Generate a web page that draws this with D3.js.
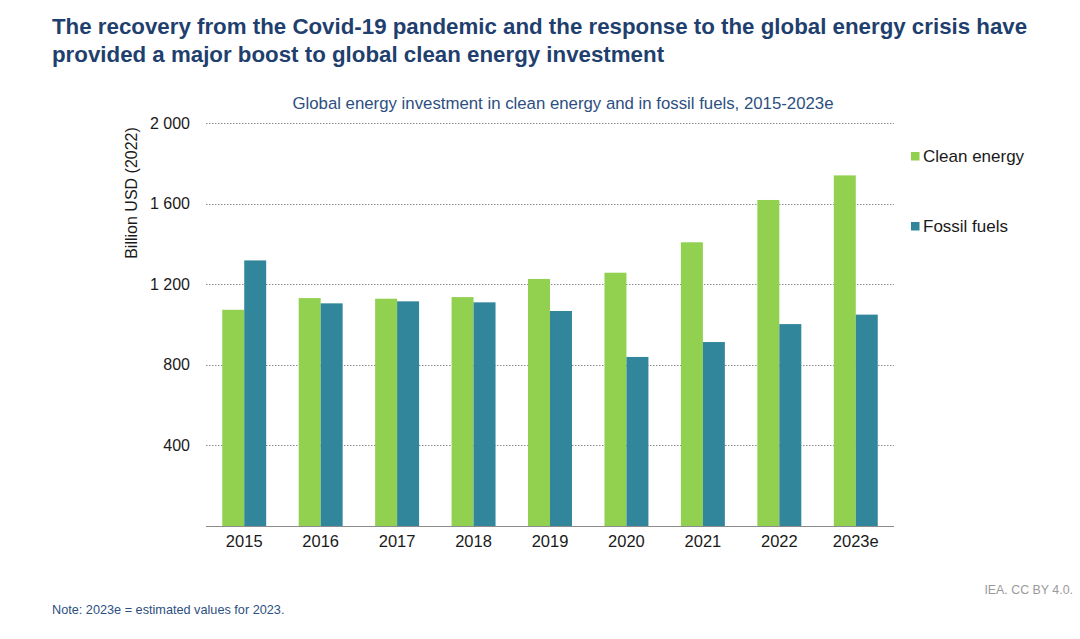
<!DOCTYPE html>
<html>
<head>
<meta charset="utf-8">
<script src="https://cdn.jsdelivr.net/npm/d3@7"></script>
<style>
  body { margin: 0; background: #fff; }
  svg { font-family: "Liberation Sans", Arial, sans-serif; }
</style>
</head>
<body>
<div id="graph"></div>
<script>
// data (billion USD 2022)
const years = ['2015', '2016', '2017', '2018', '2019', '2020', '2021', '2022', '2023e']
const cleanEnergy = [1073, 1131, 1128, 1136, 1226, 1257, 1408, 1618, 1740]
const fossilFuels = [1318, 1105, 1115, 1110, 1067, 839, 913, 1002, 1049]
const seriesNames = ['Clean energy', 'Fossil fuels']
const seriesColors = ['#92d050', '#32869c']
const yTicks = [400, 800, 1200, 1600, 2000]

const width = 1080
const height = 639

const svg = d3.select('#graph')
  .append('svg')
  .attr('width', width)
  .attr('height', height)

// titles
const title = svg.append('text')
  .attr('x', 52)
  .attr('y', 34)
  .attr('fill', '#1f3f6e')
  .attr('font-size', 22.3)
  .attr('font-weight', 'bold')
title.append('tspan').attr('x', 52).attr('dy', 0)
  .text('The recovery from the Covid-19 pandemic and the response to the global energy crisis have')
title.append('tspan').attr('x', 52).attr('dy', 28)
  .text('provided a major boost to global clean energy investment')

svg.append('text')
  .attr('x', 563)
  .attr('y', 109)
  .attr('text-anchor', 'middle')
  .attr('fill', '#2d4f7f')
  .attr('font-size', 16.8)
  .text('Global energy investment in clean energy and in fossil fuels, 2015-2023e')

// scales
const x = d3.scaleBand().domain(years).range([206, 894]).paddingInner(0.425).paddingOuter(0.2125)
const xSub = d3.scaleBand().domain(seriesNames).range([0, x.bandwidth()])
const y = d3.scaleLinear().domain([0, 2000]).range([526, 123])

// gridlines
svg.append('g')
  .selectAll('line')
  .data(yTicks)
  .enter()
  .append('line')
  .attr('x1', 206)
  .attr('x2', 894)
  .attr('y1', d => Math.round(y(d)) + 0.5)
  .attr('y2', d => Math.round(y(d)) + 0.5)
  .attr('stroke', '#8c8c8c')
  .attr('stroke-width', 1)
  .attr('stroke-dasharray', '1.5,1.5')

// y axis (labels only), thousands split by a space
const yAxis = d3.axisLeft(y)
  .tickValues(yTicks)
  .tickSize(0)
  .tickPadding(0)
  .tickFormat(d => d3.format(',')(d).replace(',', ' '))

const gy = svg.append('g')
  .attr('transform', 'translate(190,0)')
  .call(yAxis)
gy.select('.domain').remove()
gy.selectAll('text')
  .attr('font-size', 16)
  .attr('fill', '#1a1a1a')
  .attr('font-family', '"Liberation Sans", Arial, sans-serif')

svg.append('text')
  .attr('transform', 'translate(137,193) rotate(-90)')
  .attr('text-anchor', 'middle')
  .attr('font-size', 16)
  .attr('fill', '#1a1a1a')
  .text('Billion USD (2022)')

// bars
const rows = years.map((yr, i) => ({ year: yr, values: [cleanEnergy[i], fossilFuels[i]] }))

const groups = svg.append('g')
  .selectAll('g')
  .data(rows)
  .enter()
  .append('g')
  .attr('transform', d => `translate(${x(d.year)},0)`)

groups.selectAll('rect')
  .data(d => d.values.map((v, j) => ({ name: seriesNames[j], value: v, color: seriesColors[j] })))
  .enter()
  .append('rect')
  .attr('x', d => xSub(d.name))
  .attr('width', xSub.bandwidth())
  .attr('y', d => y(d.value))
  .attr('height', d => y(0) - y(d.value))
  .attr('fill', d => d.color)

// x axis
const xAxis = d3.axisBottom(x).tickSize(0).tickPadding(9)
const gx = svg.append('g')
  .attr('transform', `translate(0,${y(0)})`)
  .call(xAxis)
gx.select('.domain').attr('stroke', '#8c8c8c').attr('d', 'M206,0.5H894')
gx.selectAll('text')
  .attr('font-size', 16.5)
  .attr('fill', '#1a1a1a')
  .attr('font-family', '"Liberation Sans", Arial, sans-serif')

// legend
const legend = svg.append('g').attr('id', 'legend')
seriesNames.forEach((name, i) => {
  const ly = 162 + i * 70
  legend.append('rect')
    .attr('x', 911)
    .attr('y', ly - 10)
    .attr('width', 8.5)
    .attr('height', 8.5)
    .attr('fill', seriesColors[i])
  legend.append('text')
    .attr('x', 923)
    .attr('y', ly)
    .attr('font-size', 17)
    .attr('fill', '#1a1a1a')
    .text(name)
})

// footer
svg.append('text')
  .attr('x', 52)
  .attr('y', 614)
  .attr('font-size', 12.7)
  .attr('fill', '#2d4f7f')
  .text('Note: 2023e = estimated values for 2023.')

svg.append('text')
  .attr('x', 1073)
  .attr('y', 594)
  .attr('text-anchor', 'end')
  .attr('font-size', 12.4)
  .attr('fill', '#9a9a9a')
  .text('IEA. CC BY 4.0.')
</script>
</body>
</html>
